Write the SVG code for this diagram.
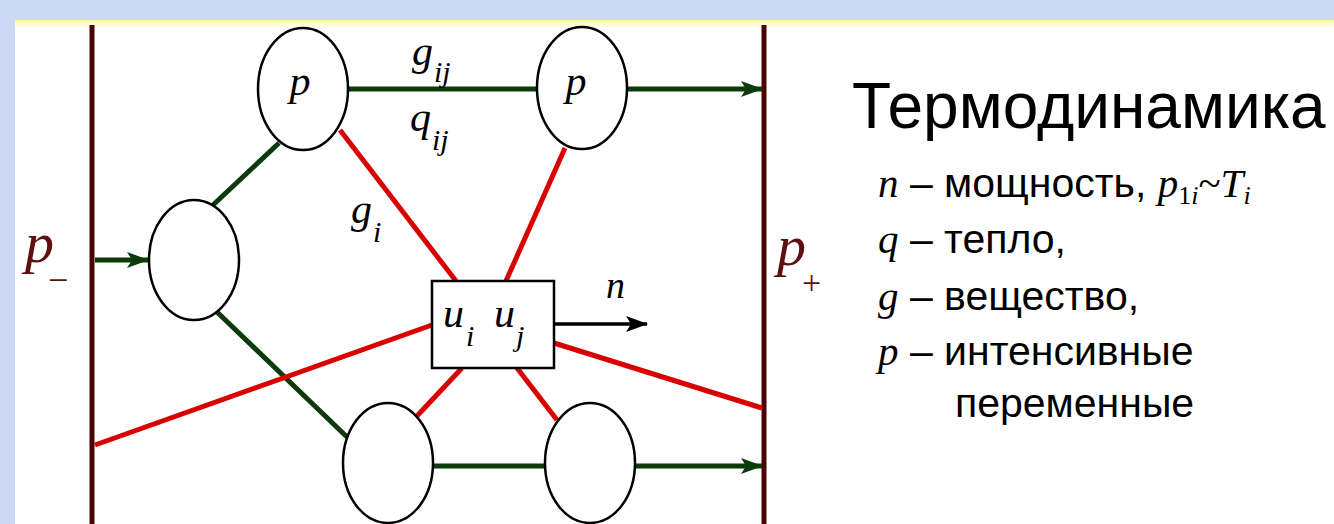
<svg xmlns="http://www.w3.org/2000/svg" width="1334" height="524" viewBox="0 0 1334 524">
<defs>
<linearGradient id="topEdge" x1="0" y1="0" x2="0" y2="1">
<stop offset="0" stop-color="#fbf9a0"/>
<stop offset="1" stop-color="#ffffff"/>
</linearGradient>
<marker id="arrG" markerUnits="userSpaceOnUse" markerWidth="22" markerHeight="16" refX="21" refY="8" orient="auto">
<path d="M0,0 L22,8 L0,16 L5,8 Z" fill="#0b3a0b"/>
</marker>
<marker id="arrK" markerUnits="userSpaceOnUse" markerWidth="22" markerHeight="16" refX="21" refY="8" orient="auto">
<path d="M0,0 L22,8 L0,16 L5,8 Z" fill="#000"/>
</marker>
<style>
.bar{stroke:#4a0303;stroke-width:5;fill:none}
.g{stroke:#0b3a0b;stroke-width:5;fill:none}
.r{stroke:#d90000;stroke-width:5;fill:none}
.k{stroke:#000;stroke-width:3.5;fill:none}
.node{fill:#fff;stroke:#000;stroke-width:2.5}
.mi{font-family:"Liberation Serif",serif;font-style:italic;fill:#000}
.mr{font-family:"Liberation Serif",serif;font-style:normal;fill:#000}
.dr{fill:#5e1010}
.t{font-family:"Liberation Sans",Arial,sans-serif;font-style:normal;fill:#000}
</style>
</defs>
<rect x="0" y="0" width="1334" height="524" fill="#cdd8f3"/>
<rect x="15" y="20" width="1319" height="504" fill="#fff"/>
<rect x="15" y="20" width="1319" height="8" fill="url(#topEdge)"/>

<g id="bars">
<line class="bar" x1="92" y1="25" x2="92" y2="524"/>
<line class="bar" x1="764" y1="25" x2="764" y2="524"/>
</g>

<g id="connectors">
<line class="g" x1="95" y1="260" x2="148" y2="260" marker-end="url(#arrG)"/>
<line class="g" x1="213" y1="205" x2="279" y2="143"/>
<line class="g" x1="217" y1="312" x2="347" y2="437"/>
<line class="g" x1="348" y1="89" x2="537" y2="89"/>
<line class="g" x1="628" y1="89" x2="762" y2="89" marker-end="url(#arrG)"/>
<line class="g" x1="434" y1="466" x2="545" y2="466"/>
<line class="g" x1="636" y1="466" x2="762" y2="466" marker-end="url(#arrG)"/>
<line class="k" x1="554" y1="324" x2="647" y2="324" marker-end="url(#arrK)"/>
<line class="r" x1="340" y1="130" x2="456" y2="281"/>
<line class="r" x1="565" y1="148" x2="506" y2="281"/>
<line class="r" x1="95" y1="445" x2="432" y2="325"/>
<line class="r" x1="554" y1="343" x2="762" y2="408"/>
<line class="r" x1="462" y1="368" x2="416" y2="417"/>
<line class="r" x1="517" y1="368" x2="557" y2="420"/>
</g>

<g id="node-p1">
<ellipse class="node" cx="303" cy="89" rx="45" ry="61"/>
<text class="mi" x="300" y="95" font-size="42" text-anchor="middle">p</text>
</g>
<g id="node-p2">
<ellipse class="node" cx="582" cy="88" rx="45" ry="61"/>
<text class="mi" x="576" y="95" font-size="42" text-anchor="middle">p</text>
</g>
<g id="node-left">
<ellipse class="node" cx="194" cy="260" rx="45" ry="60"/>
</g>
<g id="node-bl">
<ellipse class="node" cx="388" cy="463" rx="45" ry="60"/>
</g>
<g id="node-br">
<ellipse class="node" cx="590" cy="463" rx="45" ry="60"/>
</g>
<g id="node-u">
<rect class="node" x="432" y="281" width="122" height="87"/>
<text class="mi" x="443" y="327" font-size="42">u<tspan x="466" y="346" font-size="30">i</tspan><tspan x="494" y="327" font-size="42">u</tspan><tspan x="516" y="346" font-size="30">j</tspan></text>
</g>

<g id="labels">
<text class="mi" x="412" y="65" font-size="42">g<tspan x="434" y="82" font-size="30">ij</tspan></text>
<text class="mi" x="410" y="131" font-size="42">q<tspan x="432" y="150" font-size="30">ij</tspan></text>
<text class="mi" x="351" y="223" font-size="42">g<tspan x="373" y="242" font-size="30">i</tspan></text>
<text class="mi" x="606" y="298" font-size="38">n</text>
<text class="mi dr" x="25" y="262" font-size="58">p<tspan class="mr dr" x="48" y="292" font-size="36">−</tspan></text>
<text class="mi dr" x="777" y="265" font-size="58">p<tspan class="mr dr" x="802" y="294" font-size="34">+</tspan></text>
</g>

<g id="legend">
<text class="t" x="852" y="128" font-size="64">Термодинамика</text>
<text x="878" y="197" font-size="41"><tspan class="mi">n</tspan><tspan class="t"> – мощность, </tspan><tspan class="mi">p</tspan><tspan class="mr" font-size="26" dy="7">1</tspan><tspan class="mi" font-size="26">i</tspan><tspan class="mr" dy="-7">~</tspan><tspan class="mi">T</tspan><tspan class="mi" font-size="26" dy="7">i</tspan></text>
<text x="878" y="253" font-size="41"><tspan class="mi">q</tspan><tspan class="t"> – тепло,</tspan></text>
<text x="878" y="310" font-size="41"><tspan class="mi">g</tspan><tspan class="t"> – вещество,</tspan></text>
<text x="878" y="365" font-size="41"><tspan class="mi">p</tspan><tspan class="t"> – интенсивные</tspan></text>
<text class="t" x="955" y="417" font-size="41">переменные</text>
</g>
</svg>
